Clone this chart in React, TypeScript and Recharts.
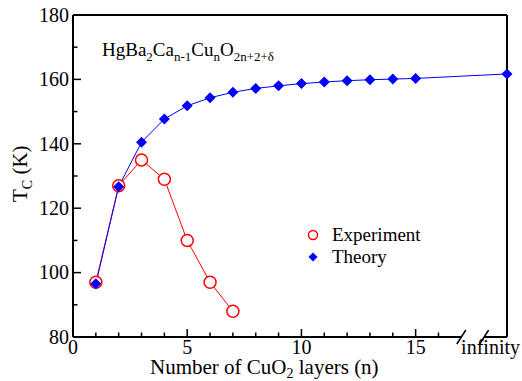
import React from 'react';
import { LineChart, Line, XAxis, YAxis, Customized } from 'recharts';

// ---- data ----
const expLayers = [1, 2, 3, 4, 5, 6, 7];
const expTc = [97, 127, 135, 129, 110, 97, 88];
const theoryLayers = [1, 2, 3, 4, 5, 6, 7, 8, 9, 10, 11, 12, 13, 14, 15];
const theoryTc = [96.5, 126.7, 140.5, 147.7, 151.8, 154.3, 156.0, 157.2, 158.0, 158.7, 159.2, 159.6, 159.9, 160.1, 160.3];
const infinityPos = 19;
const infinityLabel = 'infinity';
const theoryInfinityTc = 161.7;

const xTicks = [0, 1, 2, 3, 4, 5, 6, 7, 8, 9, 10, 11, 12, 13, 14, 15, 16];
const xMajorTicks = [0, 5, 10, 15];
const xBreakTicks = [17, 18];
const yTicks = [80, 90, 100, 110, 120, 130, 140, 150, 160, 170, 180];
const yMajorTicks = [80, 100, 120, 140, 160, 180];

const expData = expLayers.map((n, i) => ({ n, tc: expTc[i] }));
const theoryData = [
  ...theoryLayers.map((n, i) => ({ n, tc: theoryTc[i] })),
  { n: infinityPos, tc: theoryInfinityTc },
];

const FONT = 'Liberation Serif';
const RED = '#ff0000';
const BLUE = '#0000ff';
const MAJOR = 8;
const MINOR = 4.5;

function T(props: any) {
  const { size, children, ...rest } = props;
  return (
    <text {...rest} style={{ fontFamily: FONT, fontSize: size }} fill="#000">
      {children}
    </text>
  );
}

function BreakMark({ x, y, first }: any) {
  return (
    <g>
      {first && <rect x={x} y={y - 3} width={23} height={6} fill="#fff" />}
      <line x1={x - 4.5} y1={y + 7} x2={x + 4.5} y2={y - 7} stroke="#000" strokeWidth={1.5} />
    </g>
  );
}

function BottomTick(props: any) {
  const { x, y, payload } = props;
  const v = payload.value;
  if (xBreakTicks.includes(v)) return <BreakMark x={x} y={y} first={v === xBreakTicks[0]} />;
  if (v === infinityPos) {
    return (
      <T x={x + 13} y={y + 17} textAnchor="end" size={20}>
        {infinityLabel}
      </T>
    );
  }
  const major = xMajorTicks.includes(v);
  return (
    <g>
      <line x1={x} y1={y} x2={x} y2={y - (major ? MAJOR : MINOR)} stroke="#000" strokeWidth={1.5} />
      {major && (
        <T x={x} y={y + 17} textAnchor="middle" size={20}>
          {v}
        </T>
      )}
    </g>
  );
}

function TopTick(props: any) {
  const { x, y, payload } = props;
  const v = payload.value;
  if (xBreakTicks.includes(v)) return <BreakMark x={x} y={y} first={v === xBreakTicks[0]} />;
  const major = xMajorTicks.includes(v);
  return <line x1={x} y1={y} x2={x} y2={y + (major ? MAJOR : MINOR)} stroke="#000" strokeWidth={1.5} />;
}

function LeftTick(props: any) {
  const { x, y, payload } = props;
  const v = payload.value;
  const major = yMajorTicks.includes(v);
  return (
    <g>
      <line x1={x} y1={y} x2={x + (major ? MAJOR : MINOR)} y2={y} stroke="#000" strokeWidth={1.5} />
      {major && (
        <T x={x - 4} y={y} dy="0.34em" textAnchor="end" size={20}>
          {v}
        </T>
      )}
    </g>
  );
}

function RightTick(props: any) {
  const { x, y, payload } = props;
  const v = payload.value;
  const major = yMajorTicks.includes(v);
  return <line x1={x} y1={y} x2={x - (major ? MAJOR : MINOR)} y2={y} stroke="#000" strokeWidth={1.5} />;
}

function CircleDot(props: any) {
  const { cx, cy } = props;
  if (cx == null || cy == null) return <g />;
  return <circle cx={cx} cy={cy} r={6} fill="#fff" stroke={RED} strokeWidth={1.5} />;
}

function DiamondDot(props: any) {
  const { cx, cy } = props;
  if (cx == null || cy == null) return <g />;
  const s = 5.5;
  return <polygon points={`${cx},${cy - s} ${cx + s},${cy} ${cx},${cy + s} ${cx - s},${cy}`} fill={BLUE} />;
}

function Decorations() {
  return (
    <g>
      <T x={102} y={56} size={19}>
        HgBa<tspan fontSize={13} dy={5}>2</tspan>
        <tspan dy={-5}>Ca</tspan>
        <tspan fontSize={13} dy={5}>n-1</tspan>
        <tspan dy={-5}>Cu</tspan>
        <tspan fontSize={13} dy={5}>n</tspan>
        <tspan dy={-5}>O</tspan>
        <tspan fontSize={13} dy={5}>2n+2+δ</tspan>
      </T>
      <T x={150} y={374} size={21}>
        Number of CuO<tspan fontSize={14} dy={4}>2</tspan>
        <tspan dy={-4}> layers (n)</tspan>
      </T>
      <T transform="translate(27,202) rotate(-90)" size={21}>
        T<tspan fontSize={14} dy={5}>C</tspan>
        <tspan dy={-5}> (K)</tspan>
      </T>
      <circle cx={313} cy={235} r={4.5} fill="none" stroke={RED} strokeWidth={1.5} />
      <T x={332} y={241} size={19}>Experiment</T>
      <polygon points="313,252.5 317.5,257 313,261.5 308.5,257" fill={BLUE} />
      <T x={332} y={263} size={19}>Theory</T>
    </g>
  );
}

export default function App() {
  return (
    <div style={{ position: 'absolute', left: 0, top: 0, width: 522, height: 381, background: '#fff' }}>
      <LineChart width={522} height={381} margin={{ top: 14, right: 14, bottom: 14, left: 13 }}>
        <XAxis
          xAxisId="bottom"
          dataKey="n"
          type="number"
          domain={[0, infinityPos]}
          ticks={[...xTicks, ...xBreakTicks, infinityPos]}
          interval={0}
          orientation="bottom"
          height={30}
          tickSize={0}
          tickMargin={0}
          tickLine={false}
          axisLine={{ stroke: '#000', strokeWidth: 2 }}
          tick={BottomTick}
        />
        <XAxis
          xAxisId="top"
          dataKey="n"
          type="number"
          domain={[0, infinityPos]}
          ticks={[...xTicks, ...xBreakTicks]}
          interval={0}
          orientation="top"
          height={1}
          tickSize={0}
          tickMargin={0}
          tickLine={false}
          axisLine={{ stroke: '#000', strokeWidth: 2 }}
          tick={TopTick}
        />
        <YAxis
          yAxisId="left"
          type="number"
          domain={[80, 180]}
          ticks={yTicks}
          interval={0}
          orientation="left"
          width={60}
          tickSize={0}
          tickMargin={0}
          tickLine={false}
          axisLine={{ stroke: '#000', strokeWidth: 2 }}
          tick={LeftTick}
        />
        <YAxis
          yAxisId="right"
          type="number"
          domain={[80, 180]}
          ticks={yTicks}
          interval={0}
          orientation="right"
          width={1}
          tickSize={0}
          tickMargin={0}
          tickLine={false}
          axisLine={{ stroke: '#000', strokeWidth: 2 }}
          tick={RightTick}
        />
        <Line
          xAxisId="bottom"
          yAxisId="left"
          data={expData}
          dataKey="tc"
          stroke={RED}
          strokeWidth={1}
          dot={CircleDot}
          activeDot={false}
          isAnimationActive={false}
        />
        <Line
          xAxisId="bottom"
          yAxisId="left"
          data={theoryData}
          dataKey="tc"
          stroke={BLUE}
          strokeWidth={1}
          dot={DiamondDot}
          activeDot={false}
          isAnimationActive={false}
        />
        <Customized component={<Decorations />} />
      </LineChart>
    </div>
  );
}
